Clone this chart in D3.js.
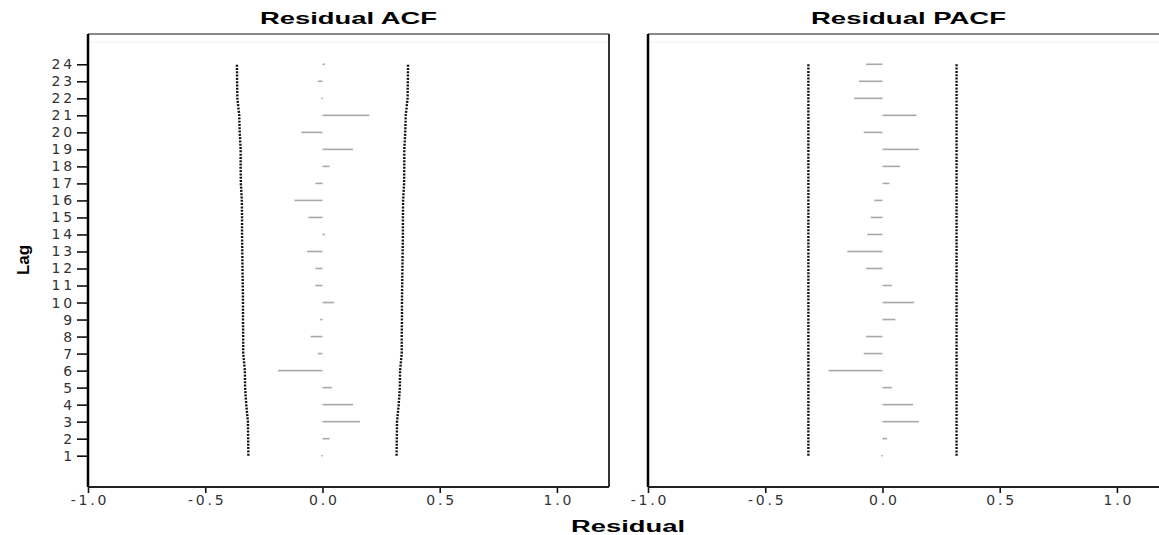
<!DOCTYPE html>
<html>
<head>
<meta charset="utf-8">
<script src="https://cdn.jsdelivr.net/npm/d3@7/dist/d3.min.js"></script>
<style>
    body { margin: 0; background: #fff; }
    .tick text { font-family: 'DejaVu Sans', sans-serif; font-size: 14px; fill: #333; letter-spacing: 2.8px; }
    .tick line { stroke: #111; stroke-width: 1.6; }
</style>
</head>
<body>
<script>
window.document.addEventListener('DOMContentLoaded', init, false);

// lags on the y axis
var lags = [1, 2, 3, 4, 5, 6, 7, 8, 9, 10, 11, 12, 13, 14, 15, 16, 17, 18, 19, 20, 21, 22, 23, 24];
var xTicks = [-1.0, -0.5, 0.0, 0.5, 1.0];
var panelTitles = ['Residual ACF', 'Residual PACF'];

// lag 1 .. 24
var acfValues = [-0.005, 0.03, 0.16, 0.13, 0.04, -0.19, -0.02, -0.05, -0.01, 0.05, -0.03, -0.03,
                 -0.065, 0.01, -0.06, -0.12, -0.03, 0.03, 0.13, -0.09, 0.20, -0.005, -0.02, 0.01];
var acfUpper = [0.316, 0.317, 0.318, 0.325, 0.330, 0.331, 0.338, 0.338, 0.339, 0.339, 0.340, 0.341,
                0.342, 0.343, 0.343, 0.344, 0.348, 0.349, 0.349, 0.353, 0.355, 0.363, 0.364, 0.365];
var pacfValues = [-0.005, 0.02, 0.155, 0.13, 0.04, -0.23, -0.08, -0.07, 0.055, 0.135, 0.04, -0.07,
                  -0.15, -0.065, -0.05, -0.035, 0.03, 0.075, 0.155, -0.08, 0.145, -0.12, -0.10, -0.07];
var pacfUpper = [0.316, 0.316, 0.316, 0.316, 0.316, 0.316, 0.316, 0.316, 0.316, 0.316, 0.316, 0.316,
                 0.316, 0.316, 0.316, 0.316, 0.316, 0.316, 0.316, 0.316, 0.316, 0.316, 0.316, 0.316];

var svg;
var yScale;
var panelTop = 34, panelBottom = 487, panelWidth = 521;

function init() {
    svg = createCanvas();
    yScale = d3.scaleLinear().domain([-0.84, 25.78]).range([panelBottom, panelTop]);

    drawPanel(88, panelTitles[0], 177, acfValues, acfUpper, true);
    drawPanel(648, panelTitles[1], 195, pacfValues, pacfUpper, false);

    svg.append('text')
        .attr('x', 628)
        .attr('y', 532)
        .attr('text-anchor', 'middle')
        .attr('textLength', 114)
        .attr('lengthAdjust', 'spacingAndGlyphs')
        .style('font-family', 'Liberation Sans, Arial, sans-serif')
        .style('font-weight', 'bold')
        .style('font-size', '16px')
        .text('Residual');

    svg.append('text')
        .attr('transform', 'translate(29,260) rotate(-90)')
        .attr('text-anchor', 'middle')
        .style('font-family', 'Liberation Sans, Arial, sans-serif')
        .style('font-weight', 'bold')
        .style('font-size', '17px')
        .text('Lag');
}

function createCanvas() {
    return d3.select('body')
        .append('svg')
        .attr('width', 1159)
        .attr('height', 535);
}

function drawPanel(left, title, titleWidth, values, upper, showLags) {
    var x = d3.scaleLinear().domain([-1, 1.222]).range([left, left + panelWidth]);
    var g = svg.append('g');

    // frame
    g.append('line').attr('x1', left).attr('x2', left + panelWidth)
        .attr('y1', panelTop).attr('y2', panelTop)
        .attr('stroke', '#8a8a8a').attr('stroke-width', 2);
    g.append('line').attr('x1', left).attr('x2', left + panelWidth)
        .attr('y1', panelTop + 8).attr('y2', panelTop + 8)
        .attr('stroke', '#f0f0f0').attr('stroke-width', 1);
    g.append('line').attr('x1', left + panelWidth).attr('x2', left + panelWidth)
        .attr('y1', panelTop).attr('y2', panelBottom)
        .attr('stroke', '#333').attr('stroke-width', 2);

    // bars
    g.selectAll('rect.bar')
        .data(values)
        .enter()
        .append('rect')
        .attr('class', 'bar')
        .attr('x', function(d) { return x(Math.min(0, d)); })
        .attr('y', function(d, i) { return yScale(lags[i]) - 0.8; })
        .attr('width', function(d) { return Math.max(1.5, Math.abs(x(d) - x(0))); })
        .attr('height', 1.6)
        .attr('fill', '#a8a8a8');

    // confidence limits
    var upperLine = d3.line()
        .x(function(d) { return x(d); })
        .y(function(d, i) { return yScale(lags[i]); });
    var lowerLine = d3.line()
        .x(function(d) { return x(-d); })
        .y(function(d, i) { return yScale(lags[i]); });
    [upperLine, lowerLine].forEach(function(lineGen) {
        g.append('path')
            .attr('d', lineGen(upper))
            .attr('fill', 'none')
            .attr('stroke', '#111')
            .attr('stroke-width', 2.4)
            .attr('stroke-dasharray', '2,1.3');
    });

    // x axis
    var xAxis = g.append('g')
        .attr('transform', 'translate(0,' + panelBottom + ')')
        .call(d3.axisBottom(x)
            .tickValues(xTicks)
            .tickSize(6)
            .tickPadding(2)
            .tickFormat(function(d) { return d.toFixed(1); }));
    xAxis.select('.domain').remove();
    xAxis.selectAll('.tick text').attr('dx', '1.4px');
    g.append('line').attr('x1', left).attr('x2', left + panelWidth)
        .attr('y1', panelBottom).attr('y2', panelBottom)
        .attr('stroke', '#222').attr('stroke-width', 2);

    // y axis
    if (showLags) {
        var yAxis = g.append('g')
            .attr('transform', 'translate(' + left + ',0)')
            .call(d3.axisLeft(yScale)
                .tickValues(lags)
                .tickSize(11)
                .tickPadding(2)
                .tickFormat(function(d) { return d; }));
        yAxis.select('.domain').remove();
    }
    g.append('line').attr('x1', left).attr('x2', left)
        .attr('y1', panelTop).attr('y2', panelBottom)
        .attr('stroke', '#000').attr('stroke-width', 2.5);

    // title
    g.append('text')
        .attr('x', left + panelWidth / 2)
        .attr('y', 24)
        .attr('text-anchor', 'middle')
        .attr('textLength', titleWidth)
        .attr('lengthAdjust', 'spacingAndGlyphs')
        .style('font-family', 'Liberation Sans, Arial, sans-serif')
        .style('font-weight', 'bold')
        .style('font-size', '17px')
        .text(title);
}
</script>
</body>
</html>
